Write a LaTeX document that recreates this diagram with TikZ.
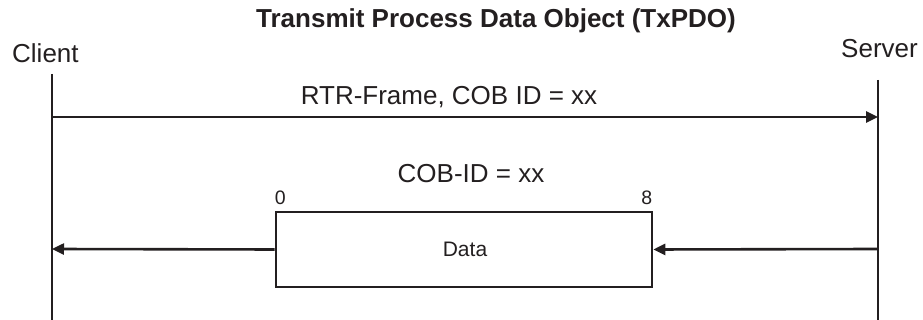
\documentclass[tikz,border=0pt]{standalone}
\usepackage{fontspec}
\setmainfont{Liberation Sans}
\usetikzlibrary{arrows.meta}
\definecolor{ink}{HTML}{231F20}
\begin{document}
\begin{tikzpicture}[x=1pt,y=1pt,
  line/.style={draw=ink,line width=2.6pt},
  msg/.style={line,-{Triangle[length=12pt,width=11pt]}},
  lbl/.style={inner sep=0pt,text=ink,font=\fontsize{26}{30}\selectfont},
  small/.style={inner sep=0pt,text=ink,font=\fontsize{19.5}{22}\selectfont},
  boxst/.style={line,inner sep=0pt,minimum width=376pt,minimum height=75pt,font=\fontsize{21}{24}\selectfont,text=ink}]
\useasboundingbox (0,0) rectangle (923,320);
% title and participants
\node[lbl,anchor=base,font=\fontsize{26}{30}\selectfont\bfseries] (title) at (496,292) {Transmit Process Data Object (TxPDO)};
\node[lbl,anchor=base west] (client) at (12,257) {Client};
\node[lbl,anchor=base west] (server) at (841,262) {Server};
% lifelines
\coordinate (ctop) at (52,246);
\coordinate (cbot) at (52,0);
\coordinate (stop) at (878,240);
\coordinate (sbot) at (878,0);
\draw[line] (ctop) -- (cbot);
\draw[line] (stop) -- (sbot);
% request
\coordinate (c1) at (52,203);
\coordinate (s1) at (878,203);
\draw[msg] (c1) -- (s1);
\node[lbl,anchor=base] (rtr) at (449,215) {RTR-Frame, COB ID = xx};
% response
\node[lbl,anchor=base] (cobid) at (471,137) {COB-ID = xx};
\node[boxst] (box) at (464,70.5) {};
\node[inner sep=0pt,text=ink,font=\fontsize{21}{24}\selectfont,anchor=base] (data) at (465,63) {Data};
\node[small,anchor=base west] (b0) at (box.north west) [yshift=6pt] {0};
\node[small,anchor=base east] (b8) at (box.north east) [yshift=6pt,xshift=-1pt] {8};
\coordinate (c2) at (52,71);
\coordinate (s2) at (878,71);
\draw[msg] (s2) -- (box.east);
\draw[msg] (box.west) -- (c2);
\end{tikzpicture}
\end{document}
